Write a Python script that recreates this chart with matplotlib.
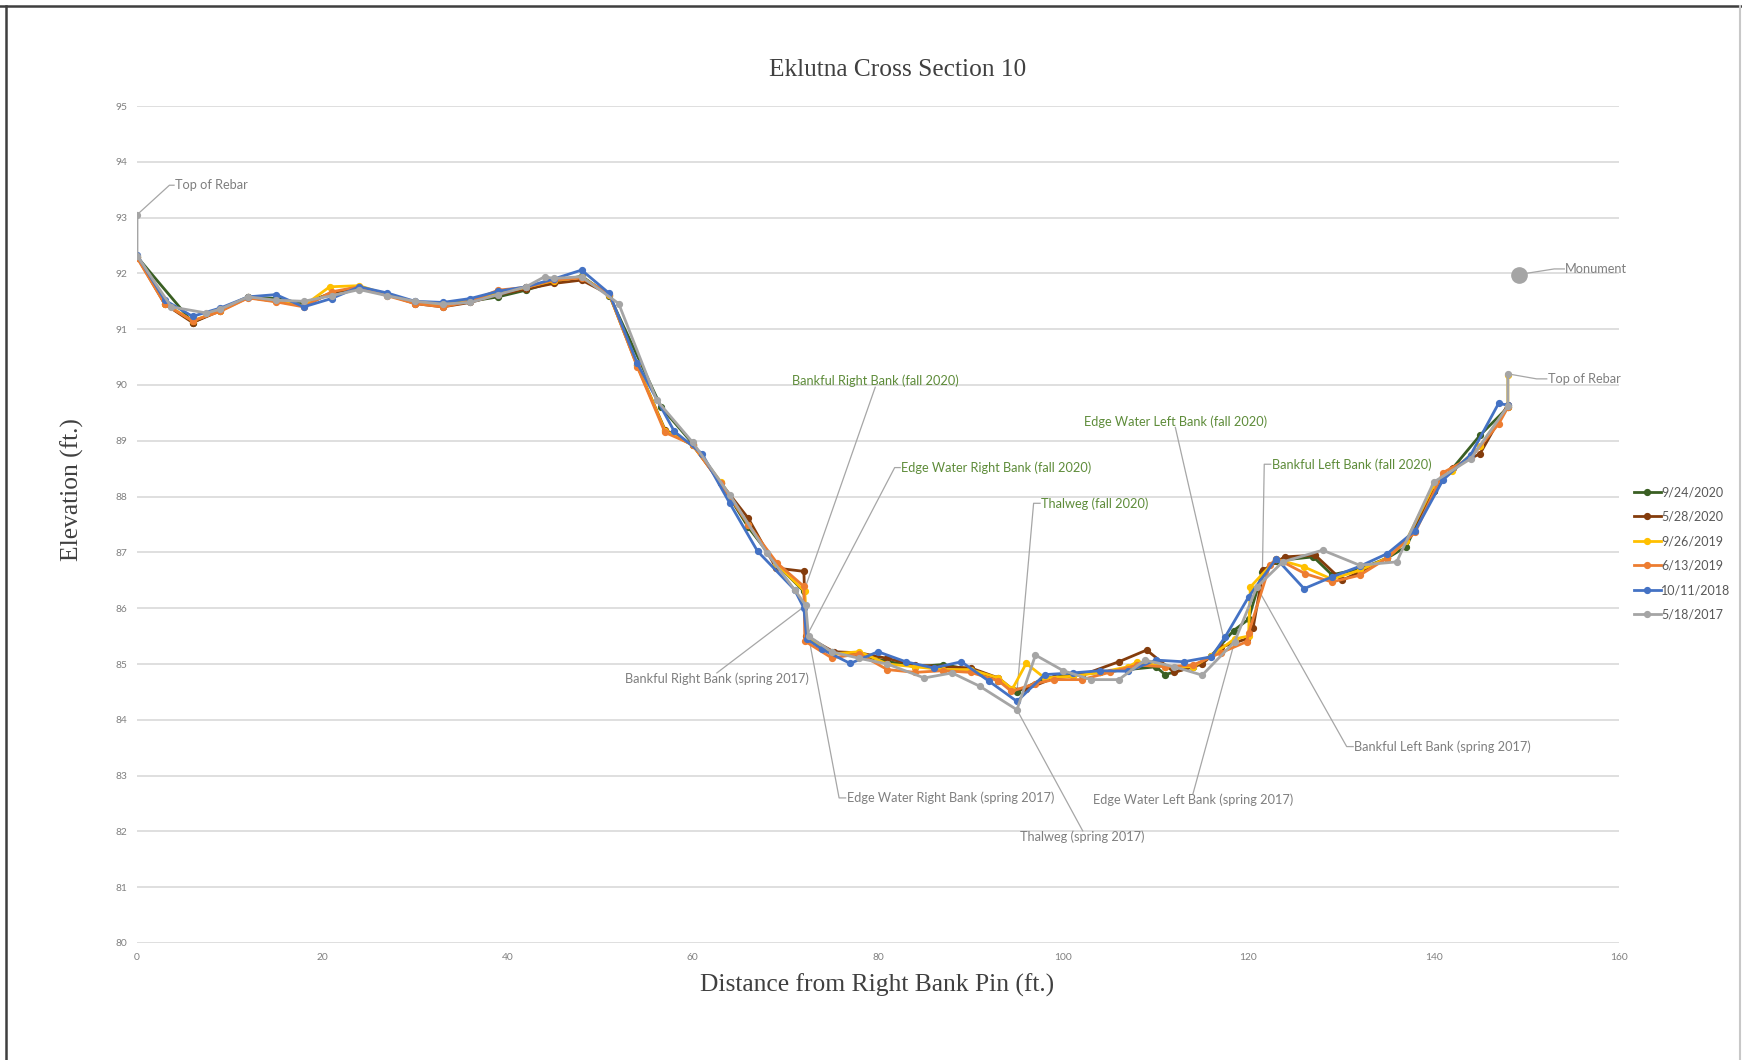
import matplotlib
matplotlib.use("Agg")
import matplotlib.pyplot as plt
from matplotlib.lines import Line2D

# Survey profiles (distance ft, elevation ft)
x_0924_2020 = [0, 6, 9, 12, 15, 18, 21, 24, 27, 30, 33, 36, 39, 42, 45, 48, 51, 56.6, 60, 63, 66, 69, 72,
               72.3, 75, 78, 81, 84, 87, 90, 93, 95, 98, 101, 104, 107, 110, 111, 114, 116, 118.4, 120,
               121.5, 123, 127, 129, 132, 135, 137, 140, 142, 145, 148]
y_0924_2020 = [92.30, 91.12, 91.35, 91.58, 91.55, 91.46, 91.65, 91.75, 91.62, 91.48, 91.45, 91.50, 91.58,
               91.70, 91.85, 91.95, 91.60, 89.60, 88.95, 88.25, 87.45, 86.80, 86.30,
               85.50, 85.22, 85.15, 85.05, 84.95, 84.99, 84.90, 84.70, 84.50, 84.75, 84.80, 84.85, 84.90,
               84.95, 84.81, 84.95, 85.15, 85.60, 85.80, 86.65, 86.85, 86.92, 86.60, 86.70, 86.90, 87.10,
               88.10, 88.50, 89.10, 89.60]

x_0528_2020 = [0, 3, 6, 9, 12, 15, 18, 21, 24, 27, 30, 33, 36, 39, 42, 45, 48, 51, 54, 57, 60, 63, 66, 69,
               72, 72.2, 75.2, 78, 81, 84, 87, 90, 93, 94.5, 96, 99, 102, 106, 109, 112, 115, 117, 119.8,
               120.5, 121.6, 123.9, 127.2, 130.1, 132, 135, 137, 140, 142.1, 145, 148]
y_0528_2020 = [92.30, 91.45, 91.12, 91.33, 91.57, 91.50, 91.42, 91.65, 91.76, 91.62, 91.46, 91.40, 91.48,
               91.62, 91.72, 91.82, 91.88, 91.62, 90.35, 89.20, 88.92, 88.25, 87.61, 86.72,
               86.66, 85.50, 85.22, 85.20, 85.10, 84.98, 84.95, 84.93, 84.75, 84.55, 84.55, 84.75, 84.80,
               85.04, 85.25, 84.85, 85.00, 85.30, 85.45, 85.65, 86.68, 86.92, 86.95, 86.50, 86.65, 86.90,
               87.20, 88.10, 88.52, 88.77, 89.65]

x_0926_2019 = [0, 3, 6, 9, 12, 15, 18, 20.8, 24, 27, 30, 33, 36, 39, 42, 45, 48, 51, 54, 57, 60, 63, 66,
               69, 72.1, 72.3, 75, 78, 81, 84, 87, 90, 93, 94.5, 96, 98, 101, 104, 107, 108, 111, 114, 116,
               118.5, 120, 120.2, 123, 126, 129, 132, 135, 137, 140, 142, 145, 148, 148]
y_0926_2019 = [92.30, 91.46, 91.15, 91.33, 91.57, 91.50, 91.42, 91.76, 91.78, 91.62, 91.47, 91.43, 91.50,
               91.65, 91.75, 91.87, 91.93, 91.62, 90.35, 89.18, 88.92, 88.27, 87.50,
               86.80, 86.30, 85.50, 85.18, 85.22, 85.00, 84.95, 84.90, 84.90, 84.75, 84.55, 85.01, 84.75,
               84.78, 84.85, 84.95, 85.04, 84.95, 84.95, 85.15, 85.45, 85.50, 86.38, 86.88, 86.74, 86.52,
               86.68, 86.90, 87.20, 88.20, 88.45, 88.90, 89.60, 90.18]

x_0613_2019 = [0, 3, 6, 9, 12, 15, 18, 21, 24, 27, 30, 33, 36, 39, 42, 45, 48, 51, 54, 57, 60, 63, 66,
               69.1, 72, 72.1, 75, 78, 81, 84, 87, 90, 93, 94.4, 97, 99, 102, 105, 108, 111, 114, 117,
               119.8, 120, 122.3, 123, 126.1, 129, 132, 135, 138, 141, 144, 147, 148]
y_0613_2019 = [92.28, 91.45, 91.15, 91.32, 91.56, 91.49, 91.40, 91.67, 91.76, 91.60, 91.46, 91.40, 91.50,
               91.70, 91.75, 91.88, 91.92, 91.63, 90.33, 89.15, 88.93, 88.24, 87.50,
               86.81, 86.39, 85.41, 85.11, 85.18, 84.90, 84.85, 84.88, 84.85, 84.70, 84.51, 84.65, 84.72,
               84.72, 84.85, 84.98, 84.95, 84.98, 85.20, 85.40, 85.55, 86.77, 86.89, 86.62, 86.47, 86.59,
               86.90, 87.36, 88.43, 88.70, 89.30, 89.60]

x_1011_2018 = [0, 3, 6, 9, 12, 15, 18, 21, 24, 27, 30, 33, 36, 39, 42, 45, 48, 51, 54, 58, 61, 64, 67, 71,
               72, 72.3, 74, 77, 80, 83, 86, 89, 92, 95, 98, 101, 104, 107, 110, 113, 116, 117.5, 120,
               123, 126, 129, 132, 135, 138, 141, 144, 147, 148]
y_1011_2018 = [92.33, 91.52, 91.23, 91.38, 91.58, 91.62, 91.40, 91.55, 91.76, 91.65, 91.50, 91.48, 91.55,
               91.68, 91.76, 91.90, 92.06, 91.64, 90.39, 89.17, 88.77, 87.88, 87.02, 86.33,
               86.00, 85.45, 85.26, 85.01, 85.22, 85.04, 84.93, 85.04, 84.69, 84.33, 84.81, 84.84, 84.88,
               84.87, 85.07, 85.04, 85.13, 85.49, 86.20, 86.89, 86.35, 86.56, 86.75, 86.98, 87.39, 88.30,
               88.75, 89.67, 89.64]

x_0518_2017 = [0, 0, 3.7, 7.5, 9, 12, 15, 18, 21, 24, 27, 30, 33, 36, 39, 42, 44, 45, 48, 52, 56.1, 60,
               64, 68, 71, 72.2, 72.5, 75, 78, 81, 85, 88, 91, 95, 97, 100, 103, 106, 108.8, 112, 115,
               118.5, 120.9, 123.7, 128, 132, 136, 140, 144, 148, 148]
y_0518_2017 = [93.05, 92.32, 91.40, 91.29, 91.36, 91.58, 91.52, 91.50, 91.60, 91.71, 91.60, 91.50, 91.45,
               91.48, 91.62, 91.76, 91.94, 91.91, 91.94, 91.46, 89.73, 88.97,
               88.03, 86.99, 86.33, 86.05, 85.50, 85.22, 85.10, 85.00, 84.75, 84.84, 84.60, 84.18, 85.16,
               84.88, 84.72, 84.72, 85.07, 84.95, 84.80, 85.40, 86.38, 86.83, 87.04, 86.77, 86.83, 88.26,
               88.68, 89.62, 90.20]

monument_x = [149.2]
monument_y = [91.98]

series = [
    ("9/24/2020", x_0924_2020, y_0924_2020, "#3A5F23"),
    ("5/28/2020", x_0528_2020, y_0528_2020, "#843C0C"),
    ("9/26/2019", x_0926_2019, y_0926_2019, "#FFC000"),
    ("6/13/2019", x_0613_2019, y_0613_2019, "#ED7D31"),
    ("10/11/2018", x_1011_2018, y_1011_2018, "#4472C4"),
    ("5/18/2017", x_0518_2017, y_0518_2017, "#A5A5A5"),
]

SANS = ["Lato", "DejaVu Sans"]
SERIF = ["Liberation Serif", "DejaVu Serif"]
GRAY_TXT = "#7F7F7F"
GREEN_TXT = "#5E8C3A"
LEADER = "#A6A6A6"
ANN_SIZE = 9.2
HALF_H = 0.11  # half label height in elevation units

fig = plt.figure(figsize=(17.42, 10.60), dpi=100)
ax = fig.add_axes([137 / 1742, 1 - 943 / 1060, (1619 - 137) / 1742, (943 - 106) / 1060])

for label, xs, ys, c in series:
    ax.plot(xs, ys, color=c, lw=2.0, marker="o", ms=4.2, label=label, solid_joinstyle="round")

ax.plot(monument_x, monument_y, "o", color="#A5A5A5", ms=11, zorder=5)

ax.set_xlim(0, 160)
ax.set_ylim(80, 95)
ax.set_xticks(range(0, 161, 20))
ax.set_yticks(range(80, 96))
ax.grid(axis="y", color="#D9D9D9", lw=1.2)
ax.set_axisbelow(True)
for s in ax.spines.values():
    s.set_visible(False)
ax.tick_params(length=0, labelsize=7.4, labelcolor="#808080", pad=7)
for t in ax.get_xticklabels() + ax.get_yticklabels():
    t.set_family(SANS)


def side_label(text, pt, tpos, color, tick=0.8):
    """Label left-aligned at tpos, leader with a short horizontal stub."""
    ax.text(tpos[0], tpos[1], text, color=color, fontsize=ANN_SIZE, family=SANS, ha="left", va="center")
    ex = tpos[0] - tick
    ax.plot([pt[0], ex, tpos[0] - 0.1], [pt[1], tpos[1], tpos[1]], color=LEADER, lw=0.9, zorder=1)


def centre_label(text, pt, tpos, color):
    """Label centred at tpos, leader meets its top or bottom edge."""
    ax.text(tpos[0], tpos[1], text, color=color, fontsize=ANN_SIZE, family=SANS, ha="center", va="center")
    ly = tpos[1] - HALF_H if pt[1] < tpos[1] else tpos[1] + HALF_H
    ax.plot([pt[0], tpos[0]], [pt[1], ly], color=LEADER, lw=0.9, zorder=1)


gx, gy = x_0518_2017, y_0518_2017
fx, fy = x_0924_2020, y_0924_2020

side_label("Top of Rebar", (gx[0], gy[0]), (4.1, 93.58), GRAY_TXT, tick=0.6)
side_label("Top of Rebar", (gx[-1], gy[-1]), (152.3, 90.11), GRAY_TXT, tick=1.2)
side_label("Monument", (monument_x[0], monument_y[0]), (154.2, 92.08), GRAY_TXT, tick=1.2)

centre_label("Bankful Right Bank (fall 2020)", (fx[22], fy[22]), (79.7, 90.07), GREEN_TXT)
side_label("Edge Water Right Bank (fall 2020)", (fx[23], fy[23]), (82.5, 88.52), GREEN_TXT, tick=0.7)
side_label("Thalweg (fall 2020)", (fx[31], fy[31]), (97.6, 87.88), GREEN_TXT)
centre_label("Edge Water Left Bank (fall 2020)", (117.4, 85.4), (112.1, 89.35), GREEN_TXT)
side_label("Bankful Left Bank (fall 2020)", (fx[42], fy[42]), (122.5, 88.58), GREEN_TXT)

centre_label("Bankful Right Bank (spring 2017)", (gx[25], gy[25]), (62.6, 84.73), GRAY_TXT)
side_label("Edge Water Right Bank (spring 2017)", (gx[26], gy[26]), (76.6, 82.6), GRAY_TXT)
centre_label("Thalweg (spring 2017)", (gx[33], gy[33]), (102.1, 81.9), GRAY_TXT)
centre_label("Edge Water Left Bank (spring 2017)", (gx[41], gy[41]), (114.0, 82.56), GRAY_TXT)
side_label("Bankful Left Bank (spring 2017)", (gx[42], gy[42]), (131.4, 83.52), GRAY_TXT)

leg = ax.legend(loc="upper left", bbox_to_anchor=(1628 / 1742, 1 - 480 / 1060),
                bbox_transform=fig.transFigure, frameon=False,
                handlelength=2.1, handletextpad=0.05, labelspacing=1.0, borderpad=0,
                prop={"family": SANS, "size": 9.0})
for t in leg.get_texts():
    t.set_color("#595959")

fig.text(0.515, 1 - 70 / 1060, "Eklutna Cross Section 10", ha="center", va="center",
         fontsize=18.3, family=SERIF, color="#404040")
fig.text(0.5036, 1 - 985 / 1060, "Distance from Right Bank Pin (ft.)", ha="center", va="center",
         fontsize=18.4, family=SERIF, color="#404040")
fig.text(72 / 1742, 1 - 490 / 1060, "Elevation (ft.)", ha="center", va="center", rotation=90,
         fontsize=18.4, family=SERIF, color="#404040")

# page frame
fig.add_artist(Line2D([0, 1], [1 - 6 / 1060] * 2, transform=fig.transFigure, color="#3F3F3F", lw=1.8))
fig.add_artist(Line2D([6 / 1742] * 2, [0, 1 - 6 / 1060], transform=fig.transFigure, color="#3F3F3F", lw=1.8))
fig.add_artist(Line2D([1740 / 1742] * 2, [0, 1 - 6 / 1060], transform=fig.transFigure, color="#C8C8C8", lw=1.5))

fig.savefig("out.png", dpi=100)
